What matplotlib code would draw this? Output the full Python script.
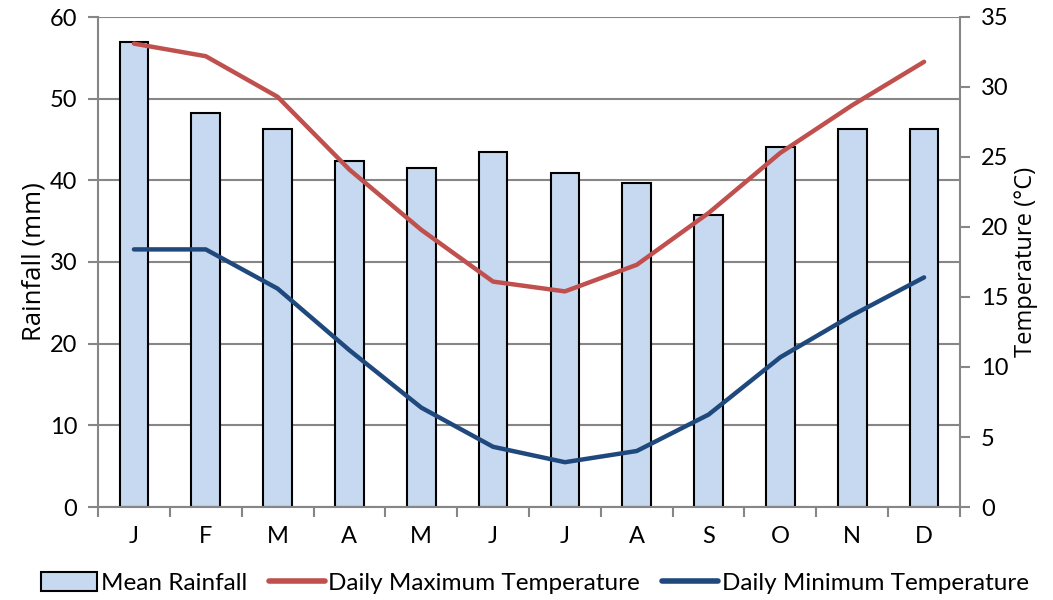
import matplotlib
matplotlib.use("Agg")
import matplotlib.pyplot as plt
from matplotlib.patches import Patch
from matplotlib.lines import Line2D
import numpy as np

months = ["J", "F", "M", "A", "M", "J", "J", "A", "S", "O", "N", "D"]
rainfall = [56.9, 48.2, 46.3, 42.4, 41.5, 43.5, 40.9, 39.7, 35.7, 44.1, 46.3, 46.3]
max_temp = [33.1, 32.2, 29.3, 24.1, 19.8, 16.1, 15.4, 17.3, 21.0, 25.3, 28.7, 31.8]
min_temp = [18.4, 18.4, 15.6, 11.2, 7.1, 4.3, 3.2, 4.0, 6.6, 10.7, 13.7, 16.4]

plt.rcParams["font.family"] = ["Lato", "DejaVu Sans"]

GRID = "#868686"
BAR_FILL = "#C6D9F0"
RED = "#C0504D"
BLUE = "#1F497D"

fig = plt.figure(figsize=(10.53, 6.0), dpi=100)
ax = fig.add_axes([98 / 1053, 1 - 507 / 600, (960 - 98) / 1053, (507 - 17) / 600])
x = np.arange(len(months))

ax.set_axisbelow(True)
ax.yaxis.grid(True, color=GRID, linewidth=1.5)
ax.bar(x, rainfall, width=0.4, color=BAR_FILL, edgecolor="black", linewidth=1.5, zorder=2)
ax.set_xlim(-0.5, len(months) - 0.5)
ax.set_ylim(0, 60)
ax.set_yticks(np.arange(0, 61, 10))
ax.set_ylabel("Rainfall (mm)", fontsize=18.5, family=["Open Sans", "DejaVu Sans"], labelpad=2)

ax.set_xticks(x)
ax.set_xticklabels(months)
ax.set_xticks(np.arange(-0.5, len(months), 1), minor=True)
ax.tick_params(axis="x", which="major", length=0, pad=14, labelsize=17)
ax.tick_params(axis="x", which="minor", length=7, width=1.5, color=GRID)
ax.tick_params(axis="y", length=7, width=1.5, color=GRID, labelsize=17, pad=8)

for side in ("top", "right"):
    ax.spines[side].set_visible(False)
for side in ("left", "bottom"):
    ax.spines[side].set_color(GRID)
    ax.spines[side].set_linewidth(1.5)

ax2 = ax.twinx()
ax2.plot(x, max_temp, color=RED, linewidth=3.2, solid_capstyle="round", zorder=3)
ax2.plot(x, min_temp, color=BLUE, linewidth=3.2, solid_capstyle="round", zorder=3)
ax2.set_ylim(0, 35)
ax2.set_yticks(np.arange(0, 36, 5))
ax2.tick_params(axis="y", length=7, width=1.5, color=GRID, labelsize=17, pad=8)
ax2.set_ylabel("Temperature (°C)", fontsize=17, family=["Open Sans", "DejaVu Sans"], labelpad=4)
for side in ("top", "left", "bottom"):
    ax2.spines[side].set_visible(False)
ax2.spines["right"].set_color(GRID)
ax2.spines["right"].set_linewidth(1.5)

handles = [
    Patch(facecolor=BAR_FILL, edgecolor="black", linewidth=1.5),
    Line2D([], [], color=RED, linewidth=4, solid_capstyle="round"),
    Line2D([], [], color=BLUE, linewidth=4, solid_capstyle="round"),
]
labels = ["Mean Rainfall", "Daily Maximum Temperature", "Daily Minimum Temperature"]
fig.legend(handles, labels, loc="center", bbox_to_anchor=(0.508, 1 - 583 / 600),
           ncol=3, frameon=False, fontsize=17.5, handlelength=2.3, handleheight=0.85,
           handletextpad=0.15, columnspacing=0.9)

fig.savefig("out.png", dpi=100)
